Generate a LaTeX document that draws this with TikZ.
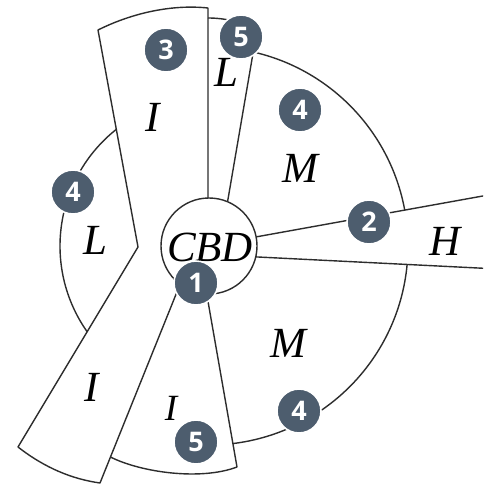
\documentclass[tikz,border=0pt]{standalone}
\usepackage{fontspec}
\newfontfamily\labfont{Liberation Serif}
\newfontfamily\numfont{Open Sans}
\usetikzlibrary{calc}
\definecolor{mk}{RGB}{77,93,110}
\definecolor{ln}{RGB}{45,45,45}
\tikzset{
  zone/.style={draw=ln, line width=1.4pt, line join=round},
  lab/.style={inner sep=0pt, font=\labfont\itshape\fontsize{43}{43}\selectfont},
  labs/.style={inner sep=0pt, font=\labfont\itshape\fontsize{37}{37}\selectfont},
  marker/.style={circle, fill=mk, draw=white, line width=1.6pt, minimum size=44pt, inner sep=0pt,
    text=white, font=\numfont\bfseries\fontsize{27}{27}\selectfont},
  cbdc/.style={circle, draw=ln, line width=1.4pt, fill=white, minimum size=96pt, inner sep=0pt}
}
\begin{document}
\begin{tikzpicture}[x=1pt,y=1pt]
\useasboundingbox (0,0) rectangle (483,-490);
\clip (0,0) rectangle (483,-490);
\fill[white] (0,0) rectangle (483,-490);
\coordinate (C) at (209,-246);
% upper I wedge and lower I wedge outline
\draw[zone] (208,-200) -- (208,-8) .. controls (170,-4) and (130,-14) .. (98,-30)
  -- (138,-247) -- (18,-447) .. controls (45,-468) and (72,-479) .. (100,-483) -- (183,-277);
% upper L sector
\draw[zone] (208,-18) .. controls (225,-18) and (242,-22) .. (257,-30) -- (227,-205);
% lower L sector
\draw[zone] (110.5,-457) .. controls (140,-472) and (200,-481) .. (237,-467) -- (206,-290);
% H wedge
\draw[zone] (250,-238) -- (490,-194.7);
\draw[zone] (250,-256.6) -- (490,-268.6);
% M arcs
\draw[zone] ([shift={(77.9:199)}]C) arc[start angle=77.9, end angle=10.35, radius=199];
\draw[zone] ([shift={(-5.3:199)}]C) arc[start angle=-5.3, end angle=-83.1, radius=199];
% left L arc
\draw[zone] ([shift={(128.5:149)}]C) arc[start angle=128.5, end angle=215.1, radius=149];
% CBD
\node[cbdc] (cbd) at (C) {};
\node[lab] (tcbd) at (210,-247.5) {CBD};
% labels
\node[lab] (tI1) at (153,-117) {I};
\node[lab] (tL1) at (226,-72) {L};
\node[lab] (tM1) at (300,-168) {M};
\node[lab] (tL2) at (95,-240) {L};
\node[lab] (tH) at (445,-241) {H};
\node[lab] (tM2) at (288,-343) {M};
\node[lab] (tI2) at (92,-387) {I};
\node[labs] (tI3) at (171,-408.5) {I};
% markers
\node[marker] (m3) at (166,-50) {3};
\node[marker] (m5a) at (241,-37) {5};
\node[marker] (m4a) at (300,-110) {4};
\node[marker] (m4b) at (73,-192) {4};
\node[marker] (m2) at (369,-222) {2};
\node[marker] (m1) at (196,-283) {1};
\node[marker] (m5b) at (196,-442) {5};
\node[marker] (m4c) at (299,-411) {4};
\end{tikzpicture}
\end{document}
